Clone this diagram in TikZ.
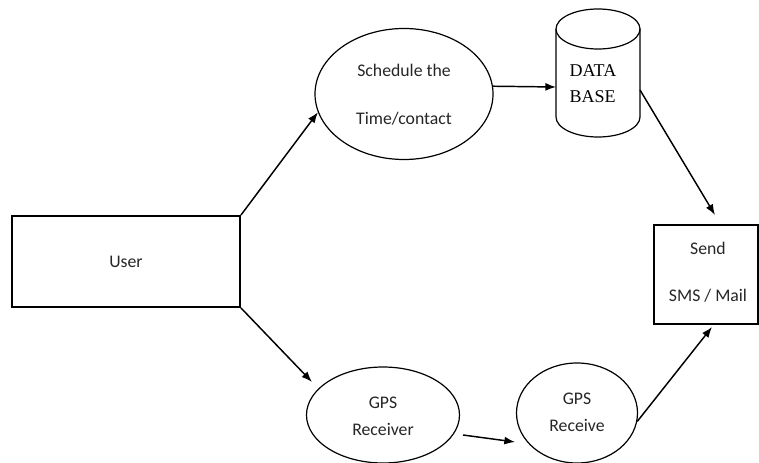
\documentclass[tikz,border=0pt]{standalone}
\usepackage{fontspec}
\setmainfont{Carlito}
\newfontfamily\dbfont{Liberation Serif}
\usetikzlibrary{shapes.geometric,arrows.meta,calc}
\begin{document}
\begin{tikzpicture}[x=0.75pt,y=-0.75pt,
  boxnode/.style={draw, line width=1.5pt, inner sep=0pt, font=\fontsize{13}{15}\selectfont},
  ellnode/.style={draw, ellipse, line width=0.9pt, inner sep=0pt, align=center, font=\fontsize{13}{15}\selectfont},
  txt/.style={font=\fontsize{13.3}{15}\selectfont, text=black!85},
  conn/.style={line width=1.1pt, -{Latex[length=8pt,width=6pt]}},
  dbline/.style={line width=0.9pt}]
\useasboundingbox (0,0) rectangle (759,463);
\fill[white] (0,0) rectangle (759,463);

% User
\node[boxnode, txt, minimum width=171pt, minimum height=68.25pt] (user) at (126,261.5) {User};

% Schedule
\node[ellnode, minimum width=133.5pt, minimum height=98.25pt] (sched) at (404,94) {};
\node[txt] (schedA) at (404,70) {Schedule the};
\node[txt] (schedB) at (404,119) {Time/contact};

% Database
\node[minimum width=63pt, minimum height=96pt, inner sep=0pt] (db) at (598,73) {};
\draw[dbline] (598,29) ellipse[x radius=42, y radius=20];
\draw[dbline] (556,29) -- (556,117) arc[start angle=180, end angle=0, x radius=42, y radius=20] -- (640,29);
\node[font=\dbfont\fontsize{13.5}{16}\selectfont, anchor=west] (dbA) at (565,71) {DATA};
\node[font=\dbfont\fontsize{13.5}{16}\selectfont, anchor=west] (dbB) at (565,97) {BASE};

% Send
\node[boxnode, minimum width=78pt, minimum height=74.25pt] (send) at (706,274.5) {};
\node[txt] (sendA) at (708,248) {Send};
\node[txt] (sendB) at (708,296) {SMS / Mail};

% GPS Receiver
\node[ellnode, minimum width=114.75pt, minimum height=72pt] (gps1) at (383,415) {};
\node[txt] (gps1A) at (383,403) {GPS};
\node[txt] (gps1B) at (383,429) {Receiver};

% GPS Receive
\node[ellnode, minimum width=90.75pt, minimum height=75pt] (gps2) at (577,413) {};
\node[txt] (gps2A) at (577,399) {GPS};
\node[txt] (gps2B) at (577,425) {Receive};

% free ends
\coordinate (dbout) at (640,90);
\coordinate (dbin) at (556,87);
\coordinate (sendtop) at (715,215);
\coordinate (sendbot) at (712,327);
\coordinate (g1in) at (312,382);
\coordinate (g1out) at (463,435);
\coordinate (g2in) at (515,442);

% connectors
\draw[conn] (user.north east) -- (sched.192);
\draw[conn] (sched.5) -- (dbin);
\draw[conn] (dbout) -- (sendtop);
\draw[conn] (user.south east) -- (g1in);
\draw[conn] (g1out) -- (g2in);
\draw[conn] (gps2.-8) -- (sendbot);
\end{tikzpicture}
\end{document}
